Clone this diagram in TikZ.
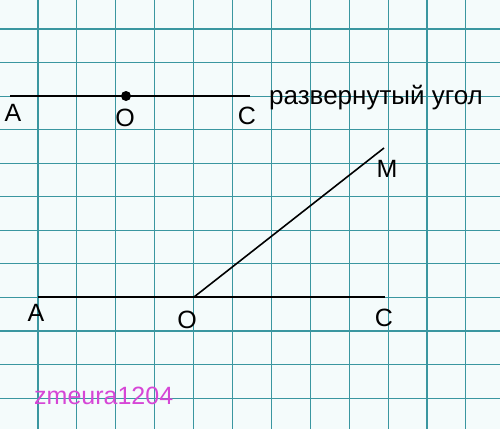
\documentclass[tikz,border=0pt]{standalone}
\usepackage{fontspec}
\setmainfont{Liberation Sans}
\definecolor{paper}{RGB}{244,251,251}
\definecolor{gridc}{RGB}{58,150,160}
\definecolor{wm}{RGB}{214,70,214}
\tikzset{
  lbl/.style={inner sep=0pt, font=\fontsize{25}{25}\selectfont, text=black},
  seg/.style={draw=black, line width=1.6pt},
  gridline/.style={draw=gridc, line width=1.1pt}
}
\begin{document}
\begin{tikzpicture}[x=1pt,y=-1pt]
\fill[paper] (0,0) rectangle (500,429);
\useasboundingbox (0,0) rectangle (500,429);
\foreach \k in {0,...,11} {
  \draw[gridline] ({38+38.9*\k},0) -- ({38+38.9*\k},429);
  \draw[gridline] (0,{29+33.55*\k}) -- (500,{29+33.55*\k});
}
% top straight angle
\coordinate (A1) at (10,96);
\coordinate (O1) at (126,96);
\coordinate (C1) at (250,96);
\draw[seg] (A1) -- (C1);
\fill[black] (O1) circle (5);
\node[lbl] (lA1) at (13,113) {A};
\node[lbl] (lO1) at (125,118) {O};
\node[lbl] (lC1) at (247,116) {C};
\node[lbl, anchor=west, font=\fontsize{26}{26}\selectfont] (title) at (269,98) {развернутый угол};
% bottom angle
\coordinate (A2) at (38,297);
\coordinate (O2) at (194,297);
\coordinate (C2) at (385,297);
\coordinate (M) at (384,148);
\draw[seg] (A2) -- (C2);
\draw[seg] (O2) -- (M);
\node[lbl] (lA2) at (36,313) {A};
\node[lbl] (lO2) at (187,320) {O};
\node[lbl] (lC2) at (384,318) {C};
\node[lbl] (lM) at (387,169) {M};
\node[inner sep=0pt, anchor=west, font=\fontsize{25}{25}\selectfont, text=wm] (wmk) at (34,396) {zmeura1204};
\end{tikzpicture}
\end{document}
